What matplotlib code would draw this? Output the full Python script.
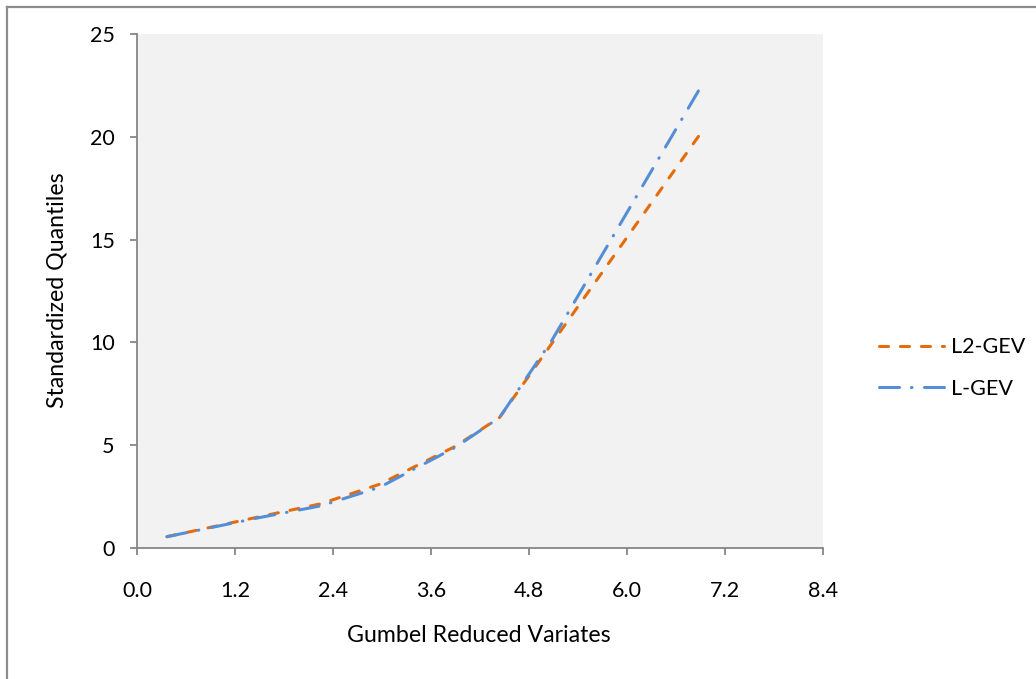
import matplotlib
matplotlib.use("Agg")
import matplotlib.pyplot as plt
from matplotlib.lines import Line2D

plt.rcParams['font.family'] = ['Lato', 'DejaVu Sans']
plt.rcParams['lines.scale_dashes'] = False

# Gumbel reduced variates and standardized quantiles
reduced_variates = [0.367, 1.50, 2.25, 2.97, 3.90, 4.44, 5.08, 6.907]
l2_gev = [0.55, 1.52, 2.15, 3.10, 4.95, 6.35, 9.95, 20.2]
l_gev = [0.55, 1.48, 2.05, 2.95, 4.90, 6.35, 10.1, 22.45]

x_ticks = [0.0, 1.2, 2.4, 3.6, 4.8, 6.0, 7.2, 8.4]
y_ticks = [0, 5, 10, 15, 20, 25]

W, H = 1036, 679
FS = 15.5
FS_LABEL = 16.7
fig = plt.figure(figsize=(W / 100, H / 100), dpi=100)
ax = fig.add_axes([137 / W, 1 - 548 / H, (823 - 137) / W, (548 - 34) / H])
ax.set_facecolor('#F2F2F2')

orange = '#E46C0A'
blue = '#558ED5'
ax.plot(reduced_variates, l2_gev, color=orange, lw=2.2,
        dashes=(6.5, 8.6), dash_capstyle='round', solid_capstyle='round',
        label='L2-GEV')
ax.plot(reduced_variates, l_gev, color=blue, lw=2.2,
        dashes=(14.4, 8.6, 0.4, 9.0), dash_capstyle='round',
        solid_capstyle='round', label='L-GEV')

ax.set_xlim(0, 8.4)
ax.set_ylim(0, 25)
ax.set_xticks(x_ticks)
ax.set_xticklabels([f'{v:.1f}' for v in x_ticks])
ax.set_yticks(y_ticks)

for side in ('top', 'right'):
    ax.spines[side].set_visible(False)
for side in ('left', 'bottom'):
    ax.spines[side].set_color('#868686')
    ax.spines[side].set_linewidth(1.3)

ax.tick_params(axis='both', direction='out', length=5, width=1.3,
               color='#868686', labelsize=FS, labelcolor='black')
ax.tick_params(axis='x', pad=19)
ax.tick_params(axis='y', pad=11)

fig.text(57 / W, 1 - 290 / H, 'Standardized Quantiles', rotation=90,
         ha='center', va='center', fontsize=FS_LABEL)
fig.text(479 / W, 1 - 636 / H, 'Gumbel Reduced Variates',
         ha='center', va='center', fontsize=FS_LABEL)

leg = ax.legend(loc='center left', bbox_to_anchor=(860 / W, 1 - 368 / H),
                bbox_transform=fig.transFigure, frameon=False,
                fontsize=FS, handlelength=3.0, handletextpad=0.35,
                labelspacing=1.0)

# outer frame lines
fig.add_artist(Line2D([7 / W, 7 / W], [0, 1 - 7 / H], transform=fig.transFigure,
                      color='#8C8C8C', lw=1.6))
fig.add_artist(Line2D([7 / W, 1], [1 - 7 / H, 1 - 7 / H], transform=fig.transFigure,
                      color='#8C8C8C', lw=1.6))

fig.savefig('out.png', dpi=100, facecolor='white')
